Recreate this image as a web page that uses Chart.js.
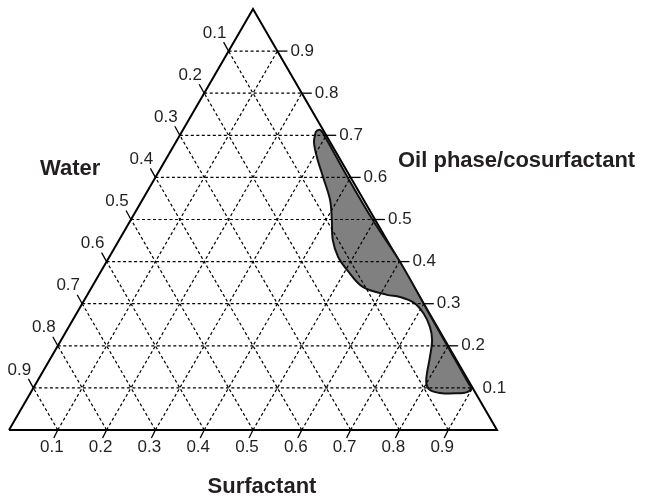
<!DOCTYPE html>
<html>
<head>
<meta charset="utf-8">
<script src="https://cdn.jsdelivr.net/npm/chart.js@4"></script>
<style>
  body { margin: 0; background: #fff; }
</style>
</head>
<body>
<canvas id="ternary" width="645" height="502"></canvas>
<script>
// tick values shared by the three axes
const tickValues = [0.1, 0.2, 0.3, 0.4, 0.5, 0.6, 0.7, 0.8, 0.9];
const tickLabels = ["0.1", "0.2", "0.3", "0.4", "0.5", "0.6", "0.7", "0.8", "0.9"];

const axisTitles = ["Water", "Oil phase/cosurfactant", "Surfactant"];

// boundary of the shaded region, as compositions (surfactant, oil phase/cosurfactant)
const regionSurfactant = [0.274, 0.281, 0.295, 0.400, 0.501, 0.602, 0.726, 0.888, 0.897, 0.894,
                          0.871, 0.839, 0.815, 0.799, 0.788, 0.776, 0.760, 0.740, 0.712, 0.679,
                          0.643, 0.614, 0.555, 0.503, 0.469, 0.438, 0.412, 0.385, 0.343, 0.307, 0.283];
const regionOil = [0.710, 0.713, 0.701, 0.594, 0.494, 0.399, 0.273, 0.109, 0.100, 0.090,
                   0.087, 0.088, 0.095, 0.112, 0.138, 0.173, 0.214, 0.245, 0.276, 0.302,
                   0.316, 0.321, 0.340, 0.380, 0.411, 0.451, 0.499, 0.546, 0.601, 0.648, 0.684];

// ternary composition -> plot coords (x along the base, y = oil level)
function toXY(s, o) {
  return { x: s + o / 2, y: o };
}

let datasets = [];

// dashed grid, three families
tickValues.forEach(function (v) {
  let grid = [
    [toXY(0, v), toXY(1 - v, v)],        // constant oil
    [toXY(v, 0), toXY(v, 1 - v)],        // constant surfactant
    [toXY(1 - v, 0), toXY(0, 1 - v)]     // constant water
  ];
  grid.forEach(function (pts) {
    datasets.push({
      data: pts,
      showLine: true,
      borderColor: "#000",
      borderWidth: 1.2,
      borderDash: [3, 2.5],
      pointRadius: 0,
      fill: false
    });
  });
});

// shaded region
let region = regionSurfactant.map(function (s, i) { return toXY(s, regionOil[i]); });
region.push(region[0]);
datasets.push({
  data: region,
  showLine: true,
  borderColor: "#111",
  borderWidth: 2,
  backgroundColor: "#808080",
  fill: "shape",
  tension: 0.35,
  pointRadius: 0
});

// triangle outline
datasets.push({
  data: [toXY(0, 0), toXY(1, 0), toXY(0, 1), toXY(0, 0)],
  showLine: true,
  borderColor: "#000",
  borderWidth: 2,
  pointRadius: 0,
  fill: false
});

// tick marks, tick labels and axis titles
const ternaryText = {
  id: "ternaryText",
  afterDatasetsDraw(chart) {
    const ctx = chart.ctx;
    const xs = chart.scales.x, ys = chart.scales.y;
    const px = function (p) { return [xs.getPixelForValue(p.x), ys.getPixelForValue(p.y)]; };
    ctx.save();
    ctx.strokeStyle = "#000";
    ctx.lineWidth = 1.3;
    ctx.fillStyle = "#231f20";
    ctx.font = "17px 'Liberation Sans', Arial, sans-serif";
    ctx.textAlign = "center";
    ctx.textBaseline = "middle";

    tickValues.forEach(function (v, i) {
      // bottom axis (surfactant)
      let b = px(toXY(v, 0));
      ctx.beginPath(); ctx.moveTo(b[0], b[1]); ctx.lineTo(b[0] - 4, b[1] + 8); ctx.stroke();
      ctx.fillText(tickLabels[i], b[0] - 6, b[1] + 17);

      // left axis (water), 0.1 at the top
      let l = px(toXY(0, 1 - v));
      ctx.beginPath(); ctx.moveTo(l[0], l[1]); ctx.lineTo(l[0] - 5, l[1] - 9); ctx.stroke();
      ctx.fillText(tickLabels[i], l[0] - 14, l[1] - 18);

      // right axis (oil phase/cosurfactant)
      let r = px(toXY(1 - v, v));
      if (v > 0.15) {
        ctx.beginPath(); ctx.moveTo(r[0], r[1]); ctx.lineTo(r[0] + 10, r[1]); ctx.stroke();
      }
      ctx.textAlign = "left";
      ctx.fillText(tickLabels[i], r[0] + (v > 0.15 ? 13 : 10), r[1]);
      ctx.textAlign = "center";
    });

    ctx.font = "bold 22px 'Liberation Sans', Arial, sans-serif";
    ctx.textBaseline = "alphabetic";
    ctx.textAlign = "left";
    ctx.fillText(axisTitles[0], 40, 175);
    ctx.fillText(axisTitles[1], 398, 167);
    ctx.textAlign = "center";
    ctx.fillText(axisTitles[2], 262, 493);
    ctx.restore();
  }
};

new Chart(document.getElementById("ternary").getContext("2d"), {
  type: "scatter",
  data: { datasets: datasets },
  options: {
    responsive: false,
    animation: false,
    events: [],
    layout: { padding: { left: 9, right: 148, top: 9, bottom: 72 } },
    datasets: { scatter: { clip: false } },
    plugins: { legend: { display: false }, tooltip: { enabled: false } },
    scales: {
      x: { type: "linear", min: 0, max: 1, display: false },
      y: { type: "linear", min: 0, max: 1, display: false }
    }
  },
  plugins: [ternaryText]
});
</script>
</body>
</html>
